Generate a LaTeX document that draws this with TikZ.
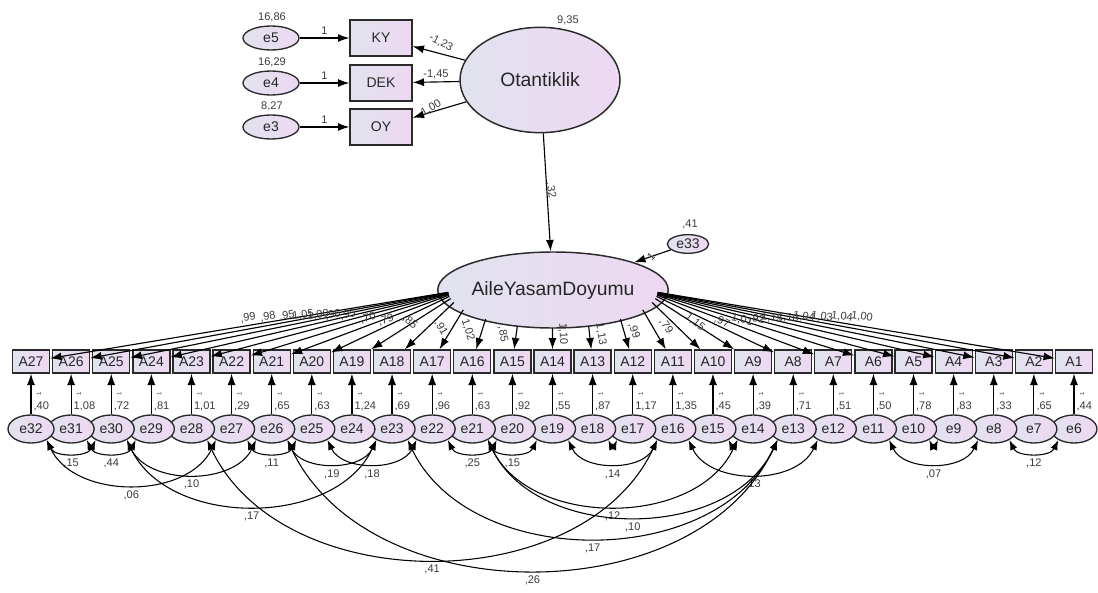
\documentclass[tikz,border=0pt]{standalone}
\usepackage{fontspec}
\setmainfont{Liberation Sans}
\usetikzlibrary{arrows.meta,shapes.geometric}
\definecolor{shL}{HTML}{E1E3EE}
\definecolor{shR}{HTML}{EDD8F1}
\definecolor{lineC}{HTML}{2A2A2A}
\definecolor{txtC}{HTML}{3C3C3C}
\tikzset{
  latent/.style={ellipse, draw=lineC, line width=1.1pt, left color=shL, right color=shR,
    inner sep=0pt, font=\fontsize{14.5}{16}\selectfont, text=black!85},
  errvar/.style={ellipse, draw=lineC, line width=1pt, left color=shL, right color=shR,
    inner sep=0pt, minimum width=34.5pt, minimum height=21pt,
    font=\fontsize{10.5}{12}\selectfont, text=black!85},
  obs/.style={rectangle, draw=lineC, line width=1pt, left color=shL, right color=shR,
    inner sep=0pt, minimum width=27.75pt, minimum height=17.25pt,
    font=\fontsize{10.5}{12}\selectfont, text=black!85},
  regpath/.style={draw=black, line width=0.85pt, -{Latex[length=8.5pt,width=6pt]}},
  cov/.style={draw=black, line width=0.8pt,
    {Latex[length=7.5pt,width=5.5pt]}-{Latex[length=7.5pt,width=5.5pt]}},
  lbl/.style={font=\fontsize{8.3}{9}\selectfont, text=txtC, inner sep=1pt},
  one/.style={font=\fontsize{4.5}{4.5}\selectfont, text=txtC, inner sep=0pt, rotate=90},
}
\begin{document}
\begin{tikzpicture}[x=0.75pt, y=0.75pt]
\path[use as bounding box, fill=white] (0,0) rectangle (1098,-592);

% exogenous latent with its three indicators
\node[latent, minimum width=120pt, minimum height=79pt] (ot) at (540,-80) {Otantiklik};
\node[lbl] at (568,-20) {9,35};
\foreach \n/\t/\e/\yy/\v in {KY/KY/5/38/{16,86}, DEK/DEK/4/83/{16,29}, OY/OY/3/127/{8,27}}{
  \node[obs, minimum width=46.5pt, minimum height=27pt] (\n) at (381,-\yy) {\t};
  \node[errvar, minimum width=42pt, minimum height=18pt] (e\e) at (271,-\yy) {e\e};
  \node[lbl] at (272,-\yy+21) {\v};
  \draw[regpath] (e\e) -- node[lbl, above=1pt] {1} (\n);
}
\draw[regpath] (ot) -- (KY);
\draw[regpath] (ot) -- (DEK);
\draw[regpath] (ot) -- (OY);
\node[lbl, rotate=-28] at (441,-43) {-1,23};
\node[lbl] at (436,-74) {-1,45};
\node[lbl, rotate=30] at (431,-108) {1,00};

% endogenous latent and its disturbance
\node[latent, minimum width=157.5pt, minimum height=57pt] (aile) at (553,-290) {AileYasamDoyumu};
\node[errvar, minimum width=31pt, minimum height=14pt] (e33) at (688,-244) {e33};
\node[lbl] at (690,-224) {,41};
\draw[regpath] (ot) -- (aile);
\node[lbl, rotate=-80] at (551,-190) {,32};
\draw[regpath] (e33) -- (aile);
\node[lbl, rotate=45] at (651,-257) {1};

% indicator boxes, their error terms and error variances
\foreach \k/\v in {1/{,44}, 2/{,65}, 3/{,33}, 4/{,83}, 5/{,78}, 6/{,50}, 7/{,51}, 8/{,71}, 9/{,39},
  10/{,45}, 11/{1,35}, 12/{1,17}, 13/{,87}, 14/{,55}, 15/{,92}, 16/{,63}, 17/{,96}, 18/{,69},
  19/{1,24}, 20/{,63}, 21/{,65}, 22/{,29}, 23/{1,01}, 24/{,81}, 25/{,72}, 26/{1,08}, 27/{,40}}{
  \pgfmathsetmacro\xx{1074-(\k-1)*40.115}
  \pgfmathtruncatemacro\ee{\k+5}
  \node[obs] (A\k) at (\xx,-361.5) {A\k};
  \node[errvar] (e\ee) at (\xx,-429) {e\ee};
  \draw[regpath] (e\ee) -- (A\k);
  \node[lbl, anchor=west] at (\xx+1,-406) {\v};
  \node[one] at (\xx+8,-394) {1};
}

% factor loadings: each path leaves the rim of the ellipse at the point
% nearest to its indicator (offsets from the ellipse centre)
\foreach \k/\ox/\oy in {1/104.8/2.3, 2/104.8/2.5, 3/104.7/2.8, 4/104.6/3.2, 5/104.5/3.6,
  6/104.4/4.2, 7/104.0/5.1, 8/103.5/6.4, 9/102.3/8.6, 10/99.2/12.5, 11/89.7/19.8,
  12/67.4/29.1, 13/35.6/35.8, 14/-0.5/38, 15/-35.6/35.8, 16/-67.4/29.1, 17/-89.7/19.8,
  18/-99.2/12.5, 19/-102.3/8.6, 20/-103.5/6.4, 21/-104.0/5.1, 22/-104.4/4.2,
  23/-104.5/3.6, 24/-104.6/3.2, 25/-104.7/2.8, 26/-104.8/2.5, 27/-104.8/2.3}{
  \coordinate (s\k) at (553+\ox, -290-\oy);
  \draw[regpath] (s\k) -- (A\k);
}
\foreach \k/\lx/\ly/\r/\v in {27/248/318/8/{,99}, 26/268/317/8/{,98}, 25/287/316/8/{,95},
  24/303/315/8/{1,05}, 23/318/315/8/{1,00}, 22/333/315/8/{,96}, 21/348/315/8/{,95},
  20/368/318/15/{,70}, 19/386/320/15/{,79}, 18/410/322/-40/{,85}, 17/441/328/-60/{,91},
  16/468/330/-72/{1,02}, 15/503/334/-80/{,85}, 14/563/334/-88/{1,10}, 13/601/334/-80/{1,13},
  12/634/331/-70/{,99}, 11/666/326/-55/{,79}, 10/695/322/-40/{1,15}, 9/722/322/-25/{,97},
  8/742/320/-12/{1,01}, 7/757/319/-10/{,92}, 6/772/318/-8/{1,15}, 5/788/318/-8/{1,10},
  4/804/317/-8/{1,04}, 3/822/317/-8/{1,03}, 2/842/317/-8/{1,04}, 1/862/317/-8/{1,00}}{
  \node[lbl, rotate=\r] at (\lx,-\ly) {\v};
}

% error covariances
\foreach \a/\b/\v in {32/30/{,15}, 31/29/{,44}, 32/27/{,06}, 30/26/{,10}, 27/25/{,11},
  26/23/{,19}, 25/22/{,18}, 30/23/{,17}, 22/20/{,25}, 21/19/{,15}, 19/16/{,14},
  16/12/{,13}, 21/14/{,12}, 21/13/{,10}, 23/13/{,17}, 28/16/{,41}, 26/13/{,26},
  11/8/{,07}, 8/6/{,12}}{
  \draw[cov] (e\a.-35) to[out=-65, in=-115] node[lbl, below=3pt] {\v} (e\b.-145);
}
\foreach \a/\b in {18/17, 15/14, 10/9}{
  \draw[cov] (e\a.-35) to[out=-65, in=-115] (e\b.-145);
}
\end{tikzpicture}
\end{document}
